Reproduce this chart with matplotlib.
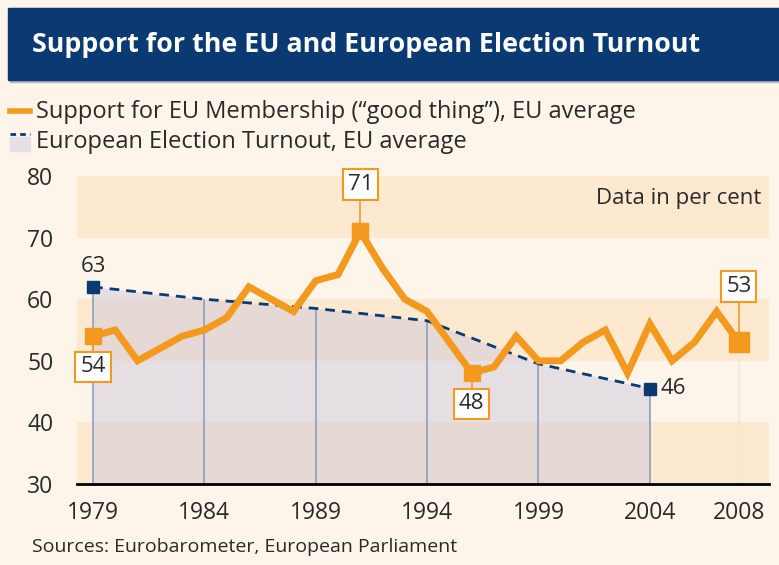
import matplotlib.pyplot as plt
import matplotlib.patches as mpatches
import numpy as np

# data
years = list(range(1979, 2009))
support = [54, 55, 50, 52, 54, 55, 57, 62, 60, 58, 63, 64, 71, 65, 60, 58,
           53, 48, 49, 54, 50, 50, 53, 55, 48, 56, 50, 53, 58, 53]
election_years = [1979, 1984, 1989, 1994, 1999, 2004]
turnout = [62, 60, 58.5, 56.5, 49.5, 45.5]
tick_years = [1979, 1984, 1989, 1994, 1999, 2004, 2008]
support_labels = {1979: "54", 1991: "71", 1996: "48", 2008: "53"}

ORANGE = "#f39a1e"
NAVY = "#0b3a73"
BG = "#fdf4ea"
BAND = "#fde8d0"
TXT = "#2a2a2a"

plt.rcParams['font.family'] = ['Open Sans', 'DejaVu Sans']

fig = plt.figure(figsize=(7.79, 5.65), dpi=100)
fig.patch.set_facecolor(BG)

W, H = 779, 565
def fx(px):
    return px / W
def fy(py):
    return 1 - py / H

# title bar
fig.patches.append(mpatches.Rectangle((fx(10), fy(82)), fx(779), 74 / H,
                                      transform=fig.transFigure, color="#b8b8c0", zorder=0))
fig.patches.append(mpatches.Rectangle((fx(8), fy(80)), fx(779), 72 / H,
                                      transform=fig.transFigure, color=NAVY, zorder=1))
fig.text(fx(32), fy(45), "Support for the EU and European Election Turnout",
         color="white", fontsize=19.3, fontweight="bold", va="center", ha="left")

# legend
fig.add_artist(plt.Line2D([fx(10), fx(30)], [fy(111), fy(111)], color=ORANGE, lw=4,
                          transform=fig.transFigure))
fig.patches.append(mpatches.Rectangle((fx(10), fy(151)), 20 / W, 14 / H,
                                      transform=fig.transFigure, color="#e4e0e4"))
fig.add_artist(plt.Line2D([fx(10), fx(30)], [fy(134), fy(134)], color=NAVY, lw=2,
                          ls=(0, (2, 1.5)), transform=fig.transFigure))
fig.text(fx(36), fy(112), "Support for EU Membership (\u201cgood thing\u201d), EU average",
         fontsize=17, color=TXT, va="center")
fig.text(fx(36), fy(142), "European Election Turnout, EU average",
         fontsize=17, color=TXT, va="center")

ax = fig.add_axes([fx(77), fy(484), (769 - 77) / W, (484 - 176) / H])
ax.set_facecolor(BG)
ax.set_xlim(1978.28, 2009.35)
ax.set_ylim(30, 80)

for lo in (30, 50, 70):
    ax.axhspan(lo, lo + 10, color=BAND, lw=0, zorder=0)

# turnout area
ax.fill_between(election_years, 30, turnout, color="#c9c6dc", alpha=0.45, lw=0, zorder=1)
ax.vlines(election_years, 30, turnout, color="#8c9fc4", lw=1.2, zorder=2)
ax.vlines(2008, 30, support[-1], color="#f5e6d6", lw=1.2, zorder=1)
ax.plot(election_years, turnout, color=NAVY, lw=2, ls=(0, (3.5, 2.5)), zorder=3)
ax.plot([election_years[0], election_years[-1]], [turnout[0], turnout[-1]], "s",
        color=NAVY, ms=8, zorder=4)
ax.text(election_years[0], turnout[0] + 1.6, "63", ha="center", va="bottom",
        fontsize=16, color=TXT)
ax.text(election_years[-1] + 0.5, turnout[-1], "46", ha="left", va="center",
        fontsize=16, color=TXT)

# support line
ax.plot(years, support, color=ORANGE, lw=5, solid_joinstyle="miter", zorder=5)
for yr, lab in support_labels.items():
    val = support[years.index(yr)]
    ms = 15 if yr == 2008 else 11
    ax.plot(yr, val, "s", color=ORANGE, ms=ms, zorder=6)
    above = yr in (1991, 2008)
    ty = val + 7.6 if above else val - 5.0
    if yr == 2008:
        ty = val + 9.0
    ax.plot([yr, yr], [val, ty], color=ORANGE, lw=1.2, zorder=4)
    ax.text(yr, ty, lab, ha="center", va="center", fontsize=16, color=TXT, zorder=7,
            bbox=dict(boxstyle="square,pad=0.22", fc="white", ec=ORANGE, lw=1.5))

ax.text(2009.0, 76.3, "Data in per cent", ha="right", va="center", fontsize=16,
        color=TXT)

for s in ("top", "right", "left"):
    ax.spines[s].set_visible(False)
ax.spines["bottom"].set_linewidth(2)
ax.set_yticks([30, 40, 50, 60, 70, 80])
ax.set_xticks(tick_years)
ax.tick_params(length=0, labelsize=16.5, colors=TXT)
ax.tick_params(axis="x", pad=12)
ax.tick_params(axis="y", pad=17)

fig.text(fx(32), fy(547), "Sources: Eurobarometer, European Parliament",
         fontsize=14, color=TXT, va="center")

fig.savefig("out.png", dpi=100, facecolor=BG)
